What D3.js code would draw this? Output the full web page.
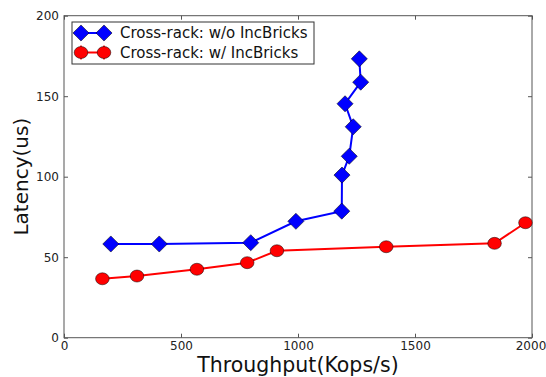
<!DOCTYPE html>
<html>
<head>
<meta charset="utf-8">
<script src="https://cdn.jsdelivr.net/npm/d3@7"></script>
<style>
  body { margin: 0; background: #fff; }
  text { font-family: "DejaVu Sans", sans-serif; }
</style>
</head>
<body>
<svg id="chart" width="546" height="377"></svg>
<script>
// throughput (Kops/s) / latency (us)
const woThroughput = [200, 407, 798, 991, 1187, 1188, 1219, 1236, 1201, 1268, 1262];
const woLatency = [58.2, 58.2, 59, 72.3, 78.6, 101, 112.7, 131, 145.3, 158.7, 173.2];
const wThroughput = [164, 312, 568, 783, 910, 1377, 1840, 1972];
const wLatency = [36.6, 38.3, 42.5, 46.6, 54, 56.5, 58.6, 71.4];
const xTicks = [0, 500, 1000, 1500, 2000];
const yTicks = [0, 50, 100, 150, 200];
const seriesNames = ["Cross-rack: w/o IncBricks", "Cross-rack: w/ IncBricks"];

const margin = { left: 64, top: 15.7, right: 14, bottom: 39.3 };
const width = 546, height = 377;

const svg = d3.select("#chart");
const x = d3.scaleLinear().domain([0, 2000]).range([margin.left, width - margin.right]);
const y = d3.scaleLinear().domain([0, 200]).range([height - margin.bottom, margin.top]);

const tickLen = 4;
const axisColor = "#555";
const fmt = d3.format("d");

// ticks pointing inward, on all four sides
const axisB = svg.append("g").attr("transform", `translate(0,${y(0)})`)
  .call(d3.axisBottom(x).tickValues(xTicks).tickFormat(fmt).tickSizeInner(-tickLen).tickSizeOuter(0).tickPadding(4));
const axisT = svg.append("g").attr("transform", `translate(0,${y(200)})`)
  .call(d3.axisTop(x).tickValues(xTicks).tickSizeInner(-tickLen).tickSizeOuter(0).tickFormat(""));
const axisL = svg.append("g").attr("transform", `translate(${x(0)},0)`)
  .call(d3.axisLeft(y).tickValues(yTicks).tickFormat(fmt).tickSizeInner(-tickLen).tickSizeOuter(0).tickPadding(5));
const axisR = svg.append("g").attr("transform", `translate(${x(2000)},0)`)
  .call(d3.axisRight(y).tickValues(yTicks).tickSizeInner(-tickLen).tickSizeOuter(0).tickFormat(""));

[axisB, axisT, axisL, axisR].forEach(a => {
  a.select(".domain").remove();
  a.selectAll(".tick line").attr("stroke", axisColor);
  a.selectAll("text").attr("font-size", 12).attr("fill", "#222").attr("font-family", "DejaVu Sans");
});
// last x label sits right at the window edge
axisB.selectAll(".tick text").filter(d => d === 2000).attr("dx", -1.5);

svg.append("rect")
  .attr("x", x(0)).attr("y", y(200))
  .attr("width", x(2000) - x(0)).attr("height", y(0) - y(200))
  .attr("fill", "none").attr("stroke", axisColor).attr("stroke-width", 1);

const diamond = d3.symbol().type(d3.symbolSquare).size(130);

const drawSeries = function (xs, ys, color, kind) {
  let pts = xs.map((v, i) => [x(v), y(ys[i])]);
  svg.append("path")
    .attr("d", d3.line()(pts))
    .attr("fill", "none").attr("stroke", color).attr("stroke-width", 2);
  if (kind === "diamond") {
    svg.selectAll(null).data(pts).enter().append("path")
      .attr("d", diamond)
      .attr("transform", d => `translate(${d[0]},${d[1]}) rotate(45)`)
      .attr("fill", color).attr("stroke", "#000").attr("stroke-width", 0.5);
  } else {
    svg.selectAll(null).data(pts).enter().append("ellipse")
      .attr("cx", d => d[0]).attr("cy", d => d[1])
      .attr("rx", 6.8).attr("ry", 6)
      .attr("fill", color).attr("stroke", "#000").attr("stroke-width", 0.5);
  }
}

drawSeries(woThroughput, woLatency, "#0000ff", "diamond");
drawSeries(wThroughput, wLatency, "#ff0000", "circle");

// legend
const lg = svg.append("g");
lg.append("rect").attr("x", 72).attr("y", 22).attr("width", 242).attr("height", 42)
  .attr("fill", "#fff").attr("stroke", "#333").attr("stroke-width", 1);
const rows = [
  { name: seriesNames[0], color: "#0000ff", kind: "diamond", cy: 33 },
  { name: seriesNames[1], color: "#ff0000", kind: "circle", cy: 52.5 }
];
rows.forEach(r => {
  lg.append("line").attr("x1", 81).attr("x2", 104).attr("y1", r.cy).attr("y2", r.cy)
    .attr("stroke", r.color).attr("stroke-width", 2);
  [81, 104].forEach(cx => {
    if (r.kind === "diamond") {
      lg.append("path").attr("d", diamond)
        .attr("transform", `translate(${cx},${r.cy}) rotate(45)`)
        .attr("fill", r.color).attr("stroke", "#000").attr("stroke-width", 0.5);
    } else {
      lg.append("line").attr("x1", cx).attr("x2", cx).attr("y1", r.cy - 7).attr("y2", r.cy + 7)
        .attr("stroke", r.color).attr("stroke-width", 1.5);
      lg.append("ellipse").attr("cx", cx).attr("cy", r.cy).attr("rx", 6.8).attr("ry", 6)
        .attr("fill", r.color).attr("stroke", "#000").attr("stroke-width", 0.5);
    }
  });
  lg.append("text").attr("x", 120).attr("y", r.cy).attr("dy", "0.35em")
    .attr("font-size", 15).attr("fill", "#111").text(r.name);
});

// axis titles
svg.append("text").attr("x", (x(0) + x(2000)) / 2).attr("y", 372)
  .attr("text-anchor", "middle").attr("font-size", 20.5).attr("fill", "#111")
  .text("Throughput(Kops/s)");
svg.append("text")
  .attr("transform", `translate(28,${(y(0) + y(200)) / 2}) rotate(-90)`)
  .attr("text-anchor", "middle").attr("font-size", 20).attr("fill", "#111")
  .text("Latency(us)");
</script>
</body>
</html>
